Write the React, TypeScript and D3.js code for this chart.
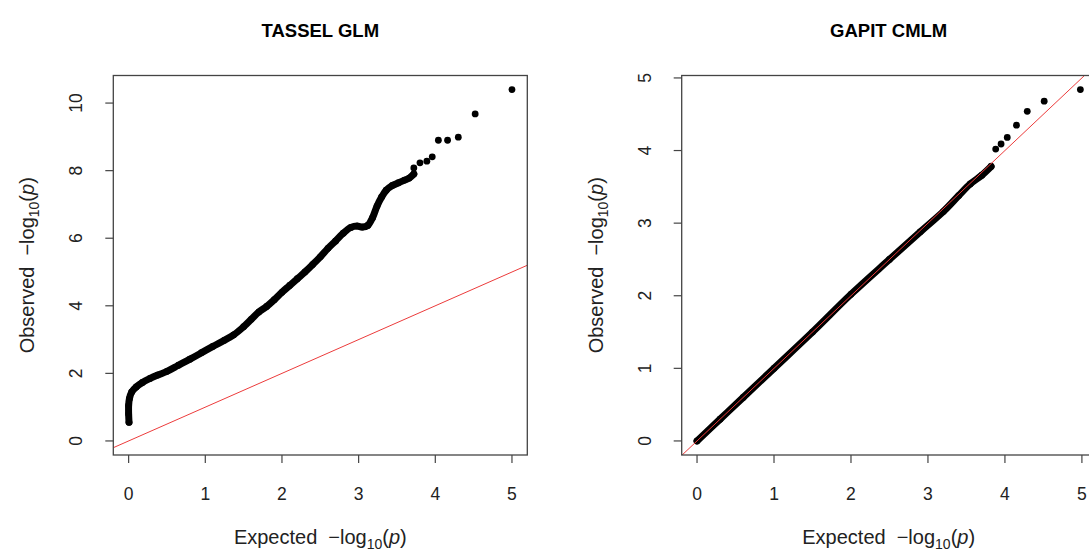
import React from "react";
import * as d3 from "d3";

// ---------- data ----------
const glmBandExpected = [0.005, 0.0, 0.0, 0.01, 0.04, 0.1, 0.18, 0.28, 0.38, 0.5, 0.65, 0.8, 0.95, 1.1, 1.25, 1.37, 1.5, 1.6, 1.7, 1.8, 1.9, 2.0, 2.1, 2.2, 2.3, 2.4, 2.5, 2.6, 2.7, 2.8, 2.9, 2.98, 3.05, 3.12, 3.18, 3.24, 3.3, 3.36, 3.44, 3.52, 3.6, 3.66, 3.72];
const glmBandObserved = [0.55, 0.8, 1.05, 1.25, 1.45, 1.6, 1.73, 1.85, 1.95, 2.06, 2.24, 2.42, 2.61, 2.8, 2.98, 3.14, 3.38, 3.6, 3.82, 3.98, 4.18, 4.4, 4.6, 4.8, 5.0, 5.22, 5.45, 5.7, 5.92, 6.15, 6.32, 6.36, 6.33, 6.38, 6.6, 6.95, 7.22, 7.42, 7.56, 7.64, 7.72, 7.78, 7.9];
const glmTopExpected = [3.72, 3.8, 3.89, 3.96, 4.04, 4.16, 4.3, 4.52, 5.0];
const glmTopObserved = [8.08, 8.23, 8.28, 8.41, 8.9, 8.9, 8.99, 9.68, 10.4];

const cmlmBandExpected = [0, 0.3, 0.6, 1.0, 1.5, 2.0, 2.5, 2.9, 3.2, 3.4, 3.55, 3.7, 3.82];
const cmlmBandObserved = [0, 0.3, 0.6, 1.0, 1.5, 2.02, 2.5, 2.88, 3.16, 3.38, 3.54, 3.66, 3.78];
const cmlmTopExpected = [3.88, 3.95, 4.03, 4.15, 4.29, 4.51, 4.98];
const cmlmTopObserved = [4.02, 4.09, 4.18, 4.35, 4.54, 4.68, 4.84];

const glmXTicks = [0, 1, 2, 3, 4, 5];
const glmYTicks = [0, 2, 4, 6, 8, 10];
const cmlmXTicks = [0, 1, 2, 3, 4, 5];
const cmlmYTicks = [0, 1, 2, 3, 4, 5];

const titles = ["TASSEL GLM", "GAPIT CMLM"];

const FONT = "'Liberation Sans', Arial, Helvetica, sans-serif";

type PanelProps = {
  left: number;
  title: string;
  bandE: number[];
  bandO: number[];
  topE: number[];
  topO: number[];
  xTicks: number[];
  yTicks: number[];
  id: string;
};

function Panel({ left, title, bandE, bandO, topE, topO, xTicks, yTicks, id }: PanelProps) {
  const W = 414;
  const top = 75.5;
  const bottom = 455;
  const right = left + W;
  const allE = bandE.concat(topE);
  const allO = bandO.concat(topO);
  const xmax = d3.max(allE) as number;
  const ymax = d3.max(allO) as number;
  const x = d3.scaleLinear().domain([-0.04 * xmax, xmax * 1.04]).range([left, right]);
  const y = d3.scaleLinear().domain([-0.04 * ymax, ymax * 1.04]).range([bottom, top]);
  const band = bandE.map((e, i) => [e, bandO[i]] as [number, number]);
  const tops = topE.map((e, i) => [e, topO[i]] as [number, number]);
  const line = d3
    .line<[number, number]>()
    .x((d) => x(d[0]))
    .y((d) => y(d[1]))
    .curve(d3.curveCatmullRom);
  const lo = Math.min(x.domain()[0], y.domain()[0]);
  const hi = Math.max(x.domain()[1], y.domain()[1]);
  const cx = (left + right) / 2;
  const fsTick = 17.5;
  const fsLab = 20;
  const labelText = (kind: string) => (
    <>
      {kind}
      <tspan dx={fsLab * 0.55}>{"\u2212log"}</tspan>
      <tspan fontSize={fsLab * 0.7} dy={5}>10</tspan>
      <tspan dy={-5}>(</tspan>
      <tspan fontStyle="italic">p</tspan>
      <tspan>)</tspan>
    </>
  );
  return (
    <g>
      <defs>
        <clipPath id={id}>
          <rect x={left} y={top} width={W} height={bottom - top} />
        </clipPath>
      </defs>
      <text x={cx} y={36.5} textAnchor="middle" fontFamily={FONT} fontWeight="bold" fontSize={18.5} fill="#000">
        {title}
      </text>
      <g clipPath={`url(#${id})`}>
        <path d={line(band) || ""} fill="none" stroke="#000" strokeWidth={7} strokeLinecap="round" strokeLinejoin="round" />
        {band.concat(tops).map((d, i) => (
          <circle key={i} cx={x(d[0])} cy={y(d[1])} r={3.4} fill="#000" />
        ))}
        <line x1={x(lo)} y1={y(lo)} x2={x(hi)} y2={y(hi)} stroke="#ec3b3b" strokeWidth={1} />
      </g>
      <rect x={left} y={top} width={W} height={bottom - top} fill="none" stroke="#444" strokeWidth={1.3} />
      {xTicks.map((t) => (
        <g key={"x" + t}>
          <line x1={x(t)} x2={x(t)} y1={bottom} y2={bottom + 8} stroke="#444" strokeWidth={1.2} />
          <text x={x(t)} y={500} textAnchor="middle" fontFamily={FONT} fontSize={fsTick} fill="#222">
            {t}
          </text>
        </g>
      ))}
      {yTicks.map((t) => (
        <g key={"y" + t}>
          <line x1={left - 8} x2={left} y1={y(t)} y2={y(t)} stroke="#444" strokeWidth={1.2} />
          <text
            transform={`translate(${left - 31},${y(t)}) rotate(-90)`}
            textAnchor="middle"
            fontFamily={FONT}
            fontSize={fsTick}
            fill="#222"
          >
            {t}
          </text>
        </g>
      ))}
      <text x={cx} y={544} textAnchor="middle" fontFamily={FONT} fontSize={fsLab} fill="#222">
        {labelText("Expected")}
      </text>
      <text
        transform={`translate(${left - 79},${(top + bottom) / 2}) rotate(-90)`}
        textAnchor="middle"
        fontFamily={FONT}
        fontSize={fsLab}
        fill="#222"
      >
        {labelText("Observed")}
      </text>
    </g>
  );
}

export default function App() {
  return (
    <svg
      width={1089}
      height={551}
      style={{ position: "absolute", left: 0, top: 0, background: "#fff" }}
    >
      <rect x={0} y={0} width={1089} height={551} fill="#fff" />
      <Panel
        left={113.3}
        title={titles[0]}
        bandE={glmBandExpected}
        bandO={glmBandObserved}
        topE={glmTopExpected}
        topO={glmTopObserved}
        xTicks={glmXTicks}
        yTicks={glmYTicks}
        id="clipA"
      />
      <Panel
        left={681.7}
        title={titles[1]}
        bandE={cmlmBandExpected}
        bandO={cmlmBandObserved}
        topE={cmlmTopExpected}
        topO={cmlmTopObserved}
        xTicks={cmlmXTicks}
        yTicks={cmlmYTicks}
        id="clipB"
      />
    </svg>
  );
}
